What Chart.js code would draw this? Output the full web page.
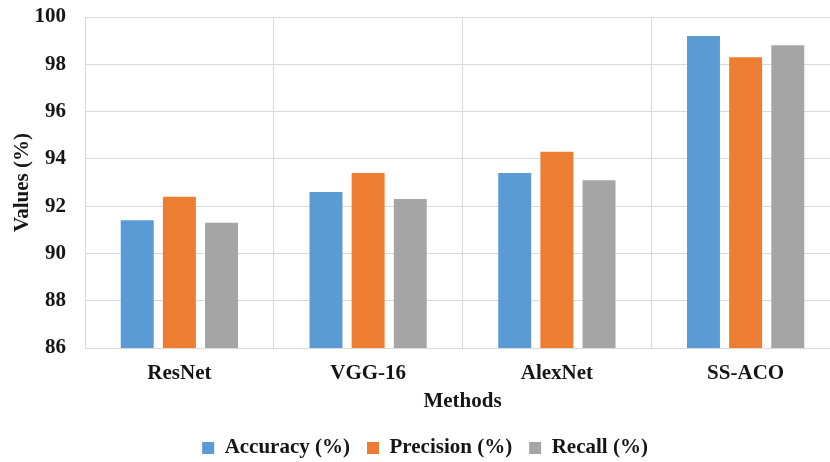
<!DOCTYPE html>
<html>
<head>
<meta charset="utf-8">
<script src="https://cdn.jsdelivr.net/npm/chart.js@4/dist/chart.umd.min.js"></script>
<style>
  html, body { margin: 0; padding: 0; background: #ffffff; overflow: hidden; }
  #wrap { width: 842px; height: 462px; }
</style>
</head>
<body>
<div id="wrap"><canvas id="chart" width="842" height="462"></canvas></div>
<script>
// Methods compared
const methods = ['ResNet', 'VGG-16', 'AlexNet', 'SS-ACO'];

// Scores per method (%)
const accuracy  = [91.4, 92.6, 93.4, 99.2];
const precision = [92.4, 93.4, 94.3, 98.3];
const recall    = [91.3, 92.3, 93.1, 98.8];

// Value axis range
const yMin = 86;
const yMax = 100;
const yStep = 2;

const FONT = '"Liberation Serif", "Times New Roman", serif';
const TEXT = '#151515';
const GRID = '#d9d9d9';

const ctx = document.getElementById('chart').getContext('2d');
new Chart(ctx, {
  type: 'bar',
  data: {
    labels: methods,
    datasets: [
      { label: 'Accuracy (%)',  data: accuracy,  backgroundColor: '#5b9bd5' },
      { label: 'Precision (%)', data: precision, backgroundColor: '#ed7d31' },
      { label: 'Recall (%)',    data: recall,    backgroundColor: '#a5a5a5' }
    ]
  },
  options: {
    responsive: false,
    animation: false,
    devicePixelRatio: 1,
    layout: { padding: { top: 17, left: 10, right: 2, bottom: 1.5 } },
    datasets: {
      bar: { categoryPercentage: 0.67, barPercentage: 0.782, borderWidth: 0 }
    },
    plugins: {
      tooltip: { enabled: false },
      legend: {
        position: 'bottom',
        maxHeight: 40,
        labels: {
          boxWidth: 12,
          boxHeight: 12,
          padding: 17,
          color: TEXT,
          font: { family: FONT, size: 21, weight: 'bold' }
        }
      }
    },
    scales: {
      x: {
        grid: { color: GRID, lineWidth: 1, drawTicks: false, tickLength: 0 },
        border: { color: GRID },
        ticks: {
          padding: 13,
          color: TEXT,
          font: { family: FONT, size: 21, weight: 'bold' }
        },
        title: {
          display: true,
          text: 'Methods',
          color: TEXT,
          padding: { top: 0, bottom: 6 },
          font: { family: FONT, size: 21, weight: 'bold' }
        },
        afterFit: (scale) => {
          scale.height = 72.5;
          scale.paddingLeft = 0;
          scale.paddingRight = 0;
        }
      },
      y: {
        min: yMin,
        max: yMax,
        grid: { color: GRID, lineWidth: 1, drawTicks: false, tickLength: 0 },
        border: { display: false },
        ticks: {
          stepSize: yStep,
          padding: 19,
          color: TEXT,
          font: { family: FONT, size: 21, weight: 'bold' }
        },
        title: {
          display: true,
          text: 'Values (%)',
          color: TEXT,
          padding: { top: 0, bottom: 0 },
          font: { family: FONT, size: 21, weight: 'bold' }
        },
        afterFit: (scale) => {
          scale.width = 75;
          scale.paddingTop = 0;
          scale.paddingBottom = 0;
        }
      }
    }
  }
});
</script>
</body>
</html>
